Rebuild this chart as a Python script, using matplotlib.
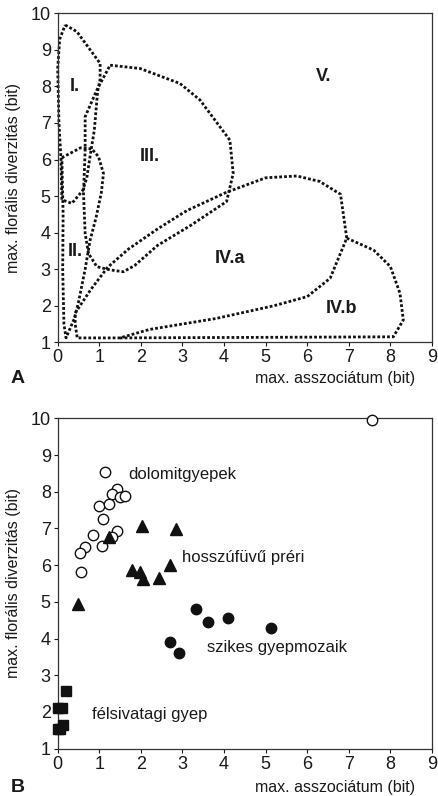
import matplotlib
matplotlib.use("Agg")
import matplotlib.pyplot as plt

plt.rcParams["font.family"] = ["Liberation Sans", "DejaVu Sans"]

# ── panel A: dotted outlines of the diversity regions ───────────────────────
region_I = [(0.18, 9.68), (0.46, 9.5), (1.02, 8.63), (1.02, 8.2), (0.96, 7.86),
            (0.88, 6.8), (0.78, 6.1), (0.7, 5.5), (0.6, 5.15), (0.34, 4.8),
            (0.1, 4.9), (0.08, 6.0), (0.03, 7.0), (0.0, 8.5), (0.05, 9.3),
            (0.18, 9.68)]
region_II = [(0.1, 6.05), (0.55, 6.32), (0.82, 6.29), (0.98, 6.08), (1.1, 5.62),
             (1.05, 5.1), (0.92, 4.4), (0.78, 3.8), (0.66, 3.0), (0.5, 2.1),
             (0.4, 1.65), (0.2, 1.12), (0.15, 1.5), (0.12, 3.0), (0.13, 4.5),
             (0.1, 6.05)]
region_III = [(1.26, 8.58), (1.98, 8.49), (2.94, 8.08), (3.42, 7.63), (4.14, 6.53),
              (4.22, 5.62), (4.06, 4.85), (3.2, 4.2), (2.4, 3.65), (1.85, 3.1),
              (1.58, 2.93), (1.26, 2.98), (0.94, 3.07), (0.74, 3.43), (0.66, 3.98),
              (0.62, 5.07), (0.66, 6.26), (0.66, 7.17), (0.94, 7.9), (1.26, 8.58)]
region_IVa = [(0.42, 1.8), (0.8, 2.45), (1.2, 3.05), (1.7, 3.55), (2.4, 4.1),
              (3.1, 4.6), (4.05, 5.1), (5.0, 5.5), (5.75, 5.55), (6.3, 5.4),
              (6.8, 5.05), (6.95, 3.85), (6.55, 2.75), (6.0, 2.25), (5.2, 2.0),
              (3.8, 1.65), (2.2, 1.35), (1.5, 1.12), (0.47, 1.12), (0.42, 1.5),
              (0.42, 1.8)]
region_IVb = [(6.95, 3.85), (7.6, 3.52), (8.0, 3.07), (8.23, 2.34), (8.31, 1.61),
              (8.07, 1.15), (1.5, 1.12)]
regions = [region_I, region_II, region_III, region_IVa, region_IVb]

region_names = ["I.", "II.", "III.", "IV.a", "IV.b", "V."]
region_label_xy = [(0.42, 8.0), (0.42, 3.48), (2.22, 6.08), (4.14, 3.3),
                   (6.83, 1.93), (6.39, 8.27)]

# ── panel B: grassland types ────────────────────────────────────────────────
dolomit_x = [7.56, 1.14, 1.42, 1.30, 1.51, 1.62, 1.0, 1.24, 1.08, 0.84, 1.43,
             1.31, 0.66, 0.54, 1.06, 0.55]
dolomit_y = [9.96, 8.53, 8.07, 7.93, 7.85, 7.88, 7.61, 7.66, 7.25, 6.82, 6.93,
             6.78, 6.50, 6.34, 6.53, 5.82]
preri_x = [2.02, 2.84, 1.24, 2.70, 1.78, 1.98, 2.04, 2.44, 0.5]
preri_y = [7.07, 6.98, 6.78, 6.0, 5.87, 5.82, 5.62, 5.64, 4.94]
szikes_x = [3.33, 3.61, 4.10, 5.13, 2.70, 2.92]
szikes_y = [4.80, 4.44, 4.55, 4.30, 3.92, 3.62]
sivatag_x = [0.2, 0.0, 0.1, 0.12, 0.0, 0.05]
sivatag_y = [2.57, 2.12, 2.12, 1.65, 1.55, 1.55]

group_names = ["dolomitgyepek", "hosszúfüvű préri", "szikes gyepmozaik",
               "félsivatagi gyep"]
group_label_xy = [(1.70, 8.46), (3.0, 6.21), (3.58, 3.76), (0.82, 1.92)]

xlabel = "max. asszociátum (bit)"
ylabel = "max. florális diverzitás (bit)"

INK = "#1a1a1a"

fig = plt.figure(figsize=(4.38, 7.96), dpi=100)
W, H = 438, 796
axA = fig.add_axes([57.7 / W, 1 - 342.3 / H, 374.3 / W, 329.0 / H])
axB = fig.add_axes([57.7 / W, 1 - 748.7 / H, 374.3 / W, 330.4 / H])


def _style(ax, letter, xlab_y):
    ax.set_xlim(0, 9)
    ax.set_ylim(1, 10)
    ax.set_xticks(range(0, 10))
    ax.set_yticks(range(1, 11))
    ax.tick_params(direction="out", length=3, width=0.8, labelsize=13,
                   pad=2, colors=INK)
    for sp in ax.spines.values():
        sp.set_linewidth(0.9)
        sp.set_color("#333333")
    ax.text(0.955, xlab_y, xlabel, transform=ax.transAxes, ha="right",
            va="center", fontsize=11.5, color=INK)
    ax.text(-0.118, 0.5, ylabel, transform=ax.transAxes, rotation=90,
            ha="center", va="center", fontsize=11.5, color=INK)
    ax.text(-0.106, xlab_y, letter, transform=ax.transAxes, ha="center",
            va="center", fontsize=14, fontweight="bold", color=INK)


# panel A
for poly in regions:
    xs, ys = zip(*poly)
    axA.plot(xs, ys, color="#111111", linewidth=2.0, linestyle=(0, (1, 0.75)),
             dash_capstyle="butt", clip_on=False)
for name, (tx, ty) in zip(region_names, region_label_xy):
    axA.text(tx, ty, name, ha="center", va="center", fontsize=13,
             fontweight="bold", color=INK)
_style(axA, "A", -0.11)

# panel B
mk = dict(linestyle="none", clip_on=False, zorder=3)
axB.plot(dolomit_x, dolomit_y, marker="o", markersize=7.5, markerfacecolor="white",
         markeredgecolor="#111111", markeredgewidth=1.0, **mk)
axB.plot(preri_x, preri_y, marker="^", markersize=9, color="#111111", **mk)
axB.plot(szikes_x, szikes_y, marker="o", markersize=7.5, color="#111111", **mk)
axB.plot(sivatag_x, sivatag_y, marker="s", markersize=6.5, color="#111111", **mk)
for name, (tx, ty) in zip(group_names, group_label_xy):
    axB.text(tx, ty, name, ha="left", va="center", fontsize=12,
             color=INK)
_style(axB, "B", -0.118)

fig.savefig("out.png", dpi=100)
